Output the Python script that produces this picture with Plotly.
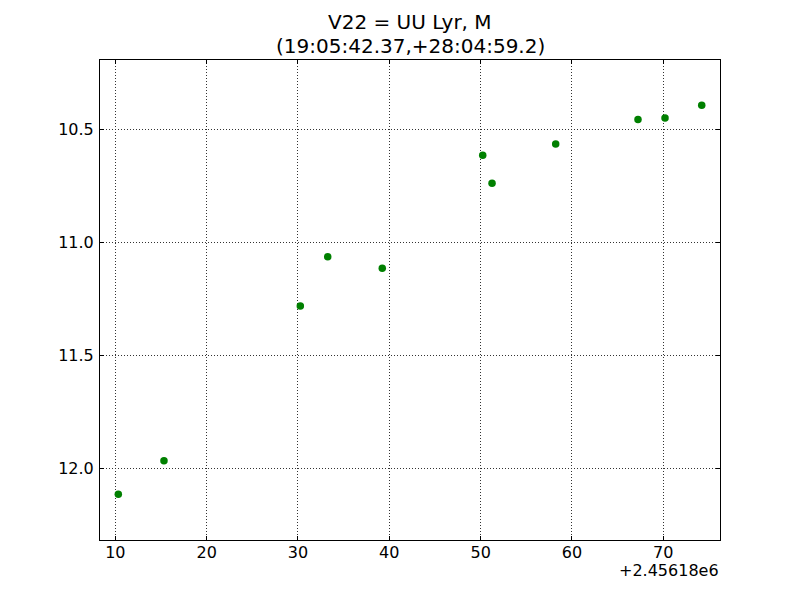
import plotly.graph_objects as go

# Data (x = JD - 2456180)
jd_offset = [10.33, 15.33, 30.26, 33.26, 39.23, 50.23, 51.25, 58.22, 67.23, 70.19, 74.21]
mag = [12.115, 11.966, 11.281, 11.064, 11.115, 10.615, 10.738, 10.565, 10.456, 10.450, 10.393]
x_ticks = [10, 20, 30, 40, 50, 60, 70]
y_ticks = [10.5, 11.0, 11.5, 12.0]
title_line1 = "V22 = UU Lyr, M"
title_line2 = "(19:05:42.37,+28:04:59.2)"
offset_label = "+2.45618e6"

FONT = "DejaVu Sans"
TICK_SIZE = 16

fig = go.Figure()
fig.add_trace(go.Scatter(
    x=jd_offset, y=mag, mode="markers",
    marker=dict(color="#008000", size=7.5, line=dict(width=0)),
    showlegend=False,
))

axis_common = dict(
    showline=True, linecolor="black", linewidth=1, mirror="ticks",
    ticks="inside", ticklen=4, tickcolor="black", tickwidth=1,
    showgrid=True, gridcolor="#333333", griddash="1px,2px", gridwidth=1,
    zeroline=False,
    tickfont=dict(family=FONT, size=TICK_SIZE, color="black"),
)

fig.update_layout(
    width=800, height=600,
    paper_bgcolor="white", plot_bgcolor="white",
    margin=dict(l=100, r=80, t=60, b=60),
    font=dict(family=FONT, color="black"),
    xaxis=dict(range=[8.325, 76.21], tickvals=x_ticks,
               ticktext=[str(v) for v in x_ticks], ticklabelstandoff=-2,
               **axis_common),
    yaxis=dict(range=[12.317, 10.193], tickvals=y_ticks,
               ticktext=[f"{v:.1f}" for v in y_ticks], ticklabelstandoff=2,
               **axis_common),
    annotations=[
        dict(text=title_line1, xref="paper", yref="paper", x=0.5, y=1 + (60 - 22) / 480,
             xanchor="center", yanchor="middle", showarrow=False,
             font=dict(family=FONT, size=20, color="black")),
        dict(text=title_line2, xref="paper", yref="paper", x=0.5, y=1 + (60 - 46) / 480,
             xanchor="center", yanchor="middle", showarrow=False,
             font=dict(family=FONT, size=20, color="black")),
        dict(text=offset_label, xref="paper", yref="paper", x=1, y=0,
             xanchor="right", yanchor="top", yshift=-20, showarrow=False,
             borderpad=0,
             font=dict(family=FONT, size=TICK_SIZE, color="black")),
    ],
)

fig.write_html("out.html", config={"displayModeBar": False},
               post_script="document.body.style.margin='0';")
